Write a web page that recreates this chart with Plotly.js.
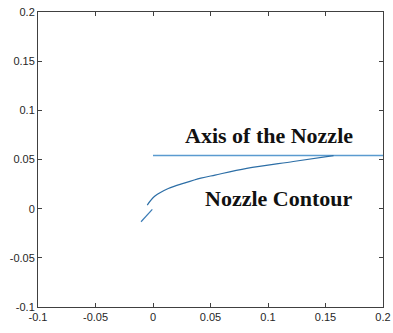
<!DOCTYPE html>
<html>
<head>
<meta charset="utf-8">
<script src="https://cdn.plot.ly/plotly-3.0.1.min.js"></script>
<style>html,body{margin:0;padding:0;background:#fff}#chart{width:393px;height:333px}</style>
</head>
<body>
<div id="chart"></div>
<script>
// Axis of the nozzle (horizontal line)
const axisX = [0.0, 0.2];
const axisY = [0.054, 0.054];
// Nozzle contour (main curve)
const contourX = [-0.005, 0.0017, 0.0133, 0.0278, 0.0416, 0.0539, 0.0815, 0.122, 0.157];
const contourY = [0.0037, 0.0128, 0.0205, 0.0262, 0.0310, 0.0342, 0.0410, 0.0480, 0.0540];
// Small inlet segment
const inletX = [-0.0104, -0.0006];
const inletY = [-0.0133, -0.0007];
// Tick labels
const tickVals = [-0.1, -0.05, 0, 0.05, 0.1, 0.15, 0.2];
const tickText = ["-0.1", "-0.05", "0", "0.05", "0.1", "0.15", "0.2"];
// Annotation labels
const labelText = ["Axis of the Nozzle", "Nozzle Contour"];
const labelX = [0.1005, 0.1095];
const labelY = [0.0745, 0.0105];

const axisCommon = {
  range: [-0.1, 0.2],
  tickvals: tickVals,
  ticktext: tickText,
  ticks: 'inside',
  ticklen: 4,
  tickcolor: '#404040',
  showline: true,
  linecolor: '#404040',
  linewidth: 1,
  mirror: 'ticks',
  showgrid: false,
  zeroline: false,
  tickfont: {family: 'Liberation Sans, Arial, sans-serif', size: 11, color: '#262626'}
};

const data = [
  {x: axisX, y: axisY, mode: 'lines', line: {color: '#5a9bd0', width: 1.5}, hoverinfo: 'skip'},
  {x: contourX, y: contourY, mode: 'lines', line: {color: '#2c6ea6', width: 1.2, shape: 'spline', smoothing: 1}, hoverinfo: 'skip'},
  {x: inletX, y: inletY, mode: 'lines', line: {color: '#3a7bb5', width: 1.2}, hoverinfo: 'skip'}
];

const layout = {
  width: 393, height: 333,
  margin: {l: 38, r: 10, t: 12, b: 26},
  paper_bgcolor: '#fff', plot_bgcolor: '#fff',
  showlegend: false,
  xaxis: Object.assign({}, axisCommon),
  yaxis: Object.assign({}, axisCommon),
  annotations: labelText.map((t, i) => ({
    x: labelX[i], y: labelY[i], xref: 'x', yref: 'y', text: '<b>' + t + '</b>',
    showarrow: false, xanchor: 'center', yanchor: 'middle',
    font: {family: 'Liberation Serif, Times New Roman, serif', size: 22, color: '#111'}
  }))
};

Plotly.newPlot('chart', data, layout, {displayModeBar: false, staticPlot: true});
</script>
</body>
</html>
